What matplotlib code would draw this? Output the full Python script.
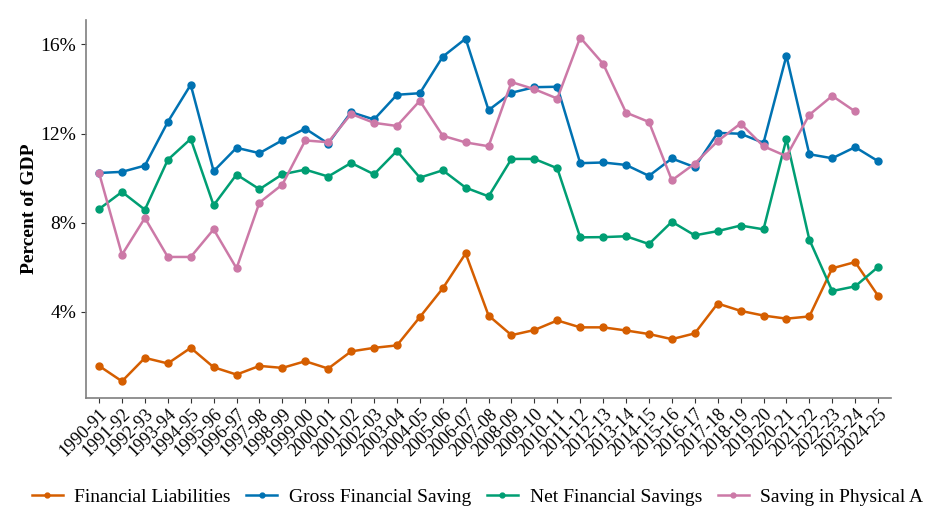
import numpy as np
import matplotlib
matplotlib.use("Agg")
import matplotlib.pyplot as plt
from matplotlib.ticker import FuncFormatter

plt.rcParams['font.family'] = ['Liberation Serif', 'DejaVu Serif']

years = [f"{y}-{str(y + 1)[-2:]}" for y in range(1990, 2025)]

financial_liabilities = [1.57, 0.88, 1.93, 1.68, 2.38, 1.51, 1.18, 1.57, 1.48, 1.78,
                         1.45, 2.22, 2.38, 2.49, 3.76, 5.05, 6.62, 3.83, 2.95, 3.18,
                         3.61, 3.30, 3.30, 3.16, 3.00, 2.77, 3.03, 4.37, 4.04, 3.83,
                         3.69, 3.79, 5.95, 6.23, 4.72]
gross_financial_saving = [10.23, 10.28, 10.56, 12.52, 14.19, 10.31, 11.36, 11.12, 11.70, 12.22,
                          11.55, 12.96, 12.63, 13.74, 13.81, 15.45, 16.26, 13.05, 13.83, 14.08,
                          14.10, 10.67, 10.70, 10.59, 10.10, 10.88, 10.49, 12.03, 11.99, 11.58,
                          15.49, 11.07, 10.89, 11.39, 10.76]
net_financial_savings = [8.61, 9.38, 8.58, 10.82, 11.76, 8.78, 10.16, 9.50, 10.17, 10.38,
                         10.07, 10.68, 10.17, 11.22, 10.02, 10.35, 9.57, 9.18, 10.86, 10.86,
                         10.44, 7.34, 7.35, 7.39, 7.04, 8.04, 7.43, 7.62, 7.87, 7.70,
                         11.76, 7.24, 4.93, 5.14, 6.01]
saving_physical = [10.23, 6.56, 8.21, 6.46, 6.46, 7.70, 5.95, 8.90, 9.71, 11.69,
                   11.61, 12.88, 12.48, 12.34, 13.47, 11.90, 11.60, 11.43, 14.31, 13.99,
                   13.57, 16.31, 15.13, 12.94, 12.52, 9.90, 10.65, 11.66, 12.45, 11.43,
                   10.98, 12.84, 13.69, 12.99, np.nan]

series = [
    ("Financial Liabilities", financial_liabilities, "#D55E00"),
    ("Gross Financial Saving", gross_financial_saving, "#0072B2"),
    ("Net Financial Savings", net_financial_savings, "#009E73"),
    ("Saving in Physical A", saving_physical, "#CC79A7"),
]

fig = plt.figure(figsize=(9.4, 5.24), dpi=100)
ax = fig.add_axes([0.0915, 0.2405, 0.8565, 0.7215])

x = np.arange(len(years))
for name, vals, col in series:
    ax.plot(x, vals, color=col, linewidth=1.8, marker='o', markersize=5, label=name)

ax.set_xlim(-0.57, len(years) - 1 + 0.57)
ax.set_ylim(0.13, 17.1)
ax.set_yticks([4, 8, 12, 16])
ax.yaxis.set_major_formatter(FuncFormatter(lambda v, p: f"{v:.0f}%"))
ax.set_xticks(x)
ax.set_xticklabels(years, rotation=45, ha='right', rotation_mode='anchor')
ax.tick_params(axis='y', labelsize=14, length=3.5, color='#333333')
ax.tick_params(axis='x', labelsize=13, length=3.5, color='#333333', pad=2)

ax.set_ylabel("Percent of GDP", fontsize=14, fontweight='bold', labelpad=2)

for side in ['top', 'right']:
    ax.spines[side].set_visible(False)
for side in ['left', 'bottom']:
    ax.spines[side].set_color('#7f7f7f')
    ax.spines[side].set_linewidth(1.2)

fig.legend(loc='center', bbox_to_anchor=(0.508, 0.052), ncol=4, frameon=False,
           fontsize=14, handlelength=1.6, columnspacing=0.8, handletextpad=0.6,
           markerscale=0.7)

fig.savefig("out.png", dpi=100)
